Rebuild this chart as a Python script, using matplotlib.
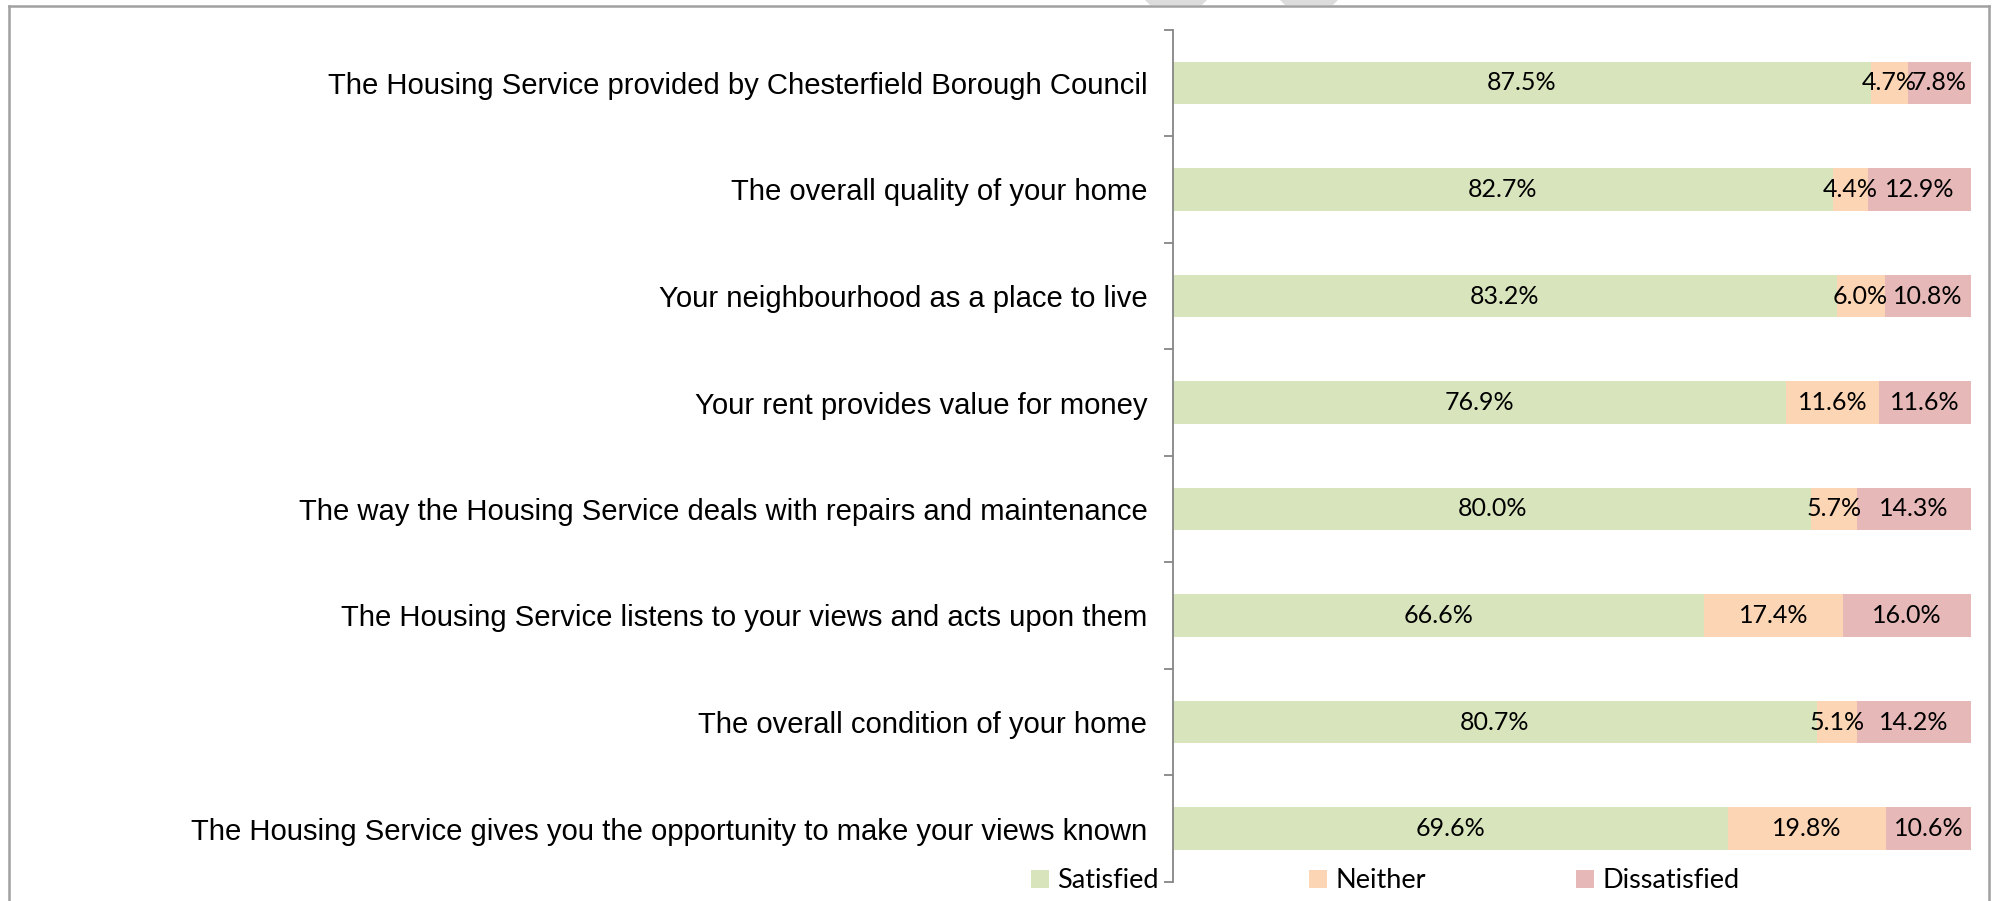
import matplotlib
matplotlib.use("Agg")
import matplotlib.pyplot as plt
from matplotlib.lines import Line2D
from matplotlib.patches import Polygon, Patch
import numpy as np

# Survey statements, top to bottom
categories = [
    "The Housing Service provided by Chesterfield Borough Council",
    "The overall quality of your home",
    "Your neighbourhood as a place to live",
    "Your rent provides value for money",
    "The way the Housing Service deals with repairs and maintenance",
    "The Housing Service listens to your views and acts upon them",
    "The overall condition of your home",
    "The Housing Service gives you the opportunity to make your views known",
]
satisfied = [87.5, 82.7, 83.2, 76.9, 80.0, 66.6, 80.7, 69.6]
neither = [4.7, 4.4, 6.0, 11.6, 5.7, 17.4, 5.1, 19.8]
dissatisfied = [7.8, 12.9, 10.8, 11.6, 14.3, 16.0, 14.2, 10.6]

series_names = ["Satisfied", "Neither", "Dissatisfied"]
series_colors = ["#d8e4bc", "#fcd5b4", "#e6b9b8"]

W, H, DPI = 1997, 901, 100
fig = plt.figure(figsize=(W / DPI, H / DPI), dpi=DPI)
fig.patch.set_facecolor("white")

# Plot area in pixel terms
x0, x1 = 1173, 1970.7
y_top, y_bot = 29.75, 881.75
ax = fig.add_axes([x0 / W, 1 - y_bot / H, (x1 - x0) / W, (y_bot - y_top) / H])

y = np.arange(len(categories))
left = np.zeros(len(categories))
label_font = ["Lato", "DejaVu Sans"]
for name, vals, col in zip(series_names, [satisfied, neither, dissatisfied], series_colors):
    vals = np.asarray(vals)
    ax.barh(y, vals, left=left, height=0.4, color=col, edgecolor="none", label=name)
    for yi, l, v in zip(y, left, vals):
        ax.text(l + v / 2, yi, f"{v:.1f}%", ha="center", va="center",
                fontsize=18, family=label_font, color="black")
    left = left + vals

ax.set_xlim(0, 100)
ax.set_ylim(len(categories) - 0.5, -0.5)

# Category axis: labels at bar centres, tick marks between bars
ax.set_yticks(y)
ax.set_yticklabels(categories, family=["Liberation Sans", "DejaVu Sans"], fontsize=21.1)
ax.tick_params(axis="y", which="major", length=0, pad=18.5)
ax.set_yticks(np.arange(-0.5, len(categories)), minor=True)
ax.tick_params(axis="y", which="minor", length=6.5, width=1.3, color="#868686", direction="out")
ax.set_xticks([])

for s in ["top", "right", "bottom"]:
    ax.spines[s].set_visible(False)
ax.spines["left"].set_color("#868686")
ax.spines["left"].set_linewidth(1.3)

# Legend along the bottom, one entry per slot
slot_x = [1031, 1309, 1576]
for n, c, sx in zip(series_names, series_colors, slot_x):
    fig.legend(handles=[Patch(facecolor=c, edgecolor="none", label=n)],
               loc="center left", bbox_to_anchor=(sx / W, 1 - 881 / H),
               frameon=False, prop={"family": label_font, "size": 19.5},
               handlelength=0.67, handleheight=0.67, handletextpad=0.3,
               borderpad=0, borderaxespad=0)

# Outer chart border (open at the bottom)
bc = "#a0a0a0"
fx = lambda px: px / W
fy = lambda py: 1 - py / H
fig.add_artist(Line2D([fx(9), fx(9)], [fy(6), 0], color=bc, lw=1.8, transform=fig.transFigure))
fig.add_artist(Line2D([fx(9), fx(1989)], [fy(6), fy(6)], color=bc, lw=1.8, transform=fig.transFigure))
fig.add_artist(Line2D([fx(1989), fx(1989)], [fy(6), 0], color=bc, lw=1.8, transform=fig.transFigure))

# Grey shapes peeking over the top edge
for xa, xb, xc, xd in [(1145, 1207, 1202, 1150), (1280, 1338, 1333, 1285)]:
    fig.add_artist(Polygon([(fx(xa), 1), (fx(xb), 1), (fx(xc), fy(5)), (fx(xd), fy(5))],
                           closed=True, facecolor="#dcdcdc", edgecolor="none",
                           transform=fig.transFigure))

fig.savefig("out.png", dpi=DPI, facecolor="white")
